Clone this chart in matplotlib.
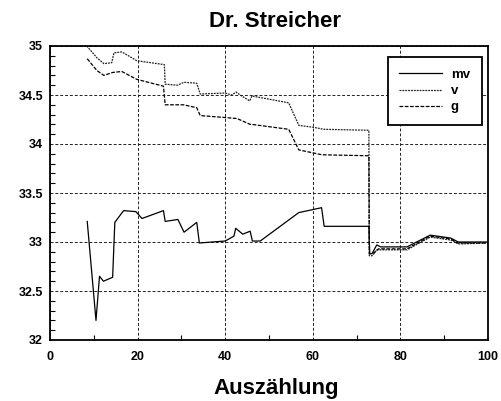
import matplotlib
matplotlib.use("Agg")
import matplotlib.pyplot as plt
from matplotlib.ticker import MultipleLocator

plt.rcParams['font.family'] = ['Liberation Sans', 'DejaVu Sans']

mv_x = [8.5, 10.5, 11.3, 12.2, 14.3, 14.8, 16.8, 19.6, 21.0, 25.9, 26.3, 29.2, 30.6, 33.5, 34.1,
        40.0, 42.0, 42.4, 44.0, 45.7, 46.2, 48.0, 56.8, 62.0, 62.6, 72.8, 73.0, 73.5, 74.6, 75.5,
        81.5, 86.8, 91.5, 93.2, 100.0]
mv_y = [33.21, 32.2, 32.65, 32.6, 32.64, 33.2, 33.32, 33.31, 33.24, 33.32, 33.21, 33.23, 33.1, 33.2, 32.99,
        33.01, 33.06, 33.14, 33.08, 33.11, 33.01, 33.01, 33.3, 33.35, 33.16, 33.16, 32.88, 32.88, 32.97, 32.95,
        32.95, 33.07, 33.04, 33.0, 33.0]

v_x = [8.4, 10.7, 12.3, 14.1, 14.6, 16.4, 19.8, 26.1, 26.3, 29.1, 30.6, 33.5, 34.3, 40.0, 41.5,
       42.5, 43.4, 45.6, 46.1, 54.5, 56.8, 60.2, 62.5, 72.8, 72.9, 73.6, 74.6, 81.5, 86.8, 91.5,
       93.2, 100.0]
v_y = [35.0, 34.88, 34.82, 34.83, 34.93, 34.94, 34.85, 34.81, 34.61, 34.6, 34.63, 34.62, 34.51, 34.52, 34.5,
       34.53, 34.5, 34.44, 34.49, 34.42, 34.19, 34.17, 34.15, 34.14, 32.86, 32.86, 32.92, 32.92, 33.05, 33.02,
       32.98, 32.99]

g_x = [8.5, 10.7, 12.3, 14.3, 16.4, 19.8, 25.9, 26.3, 30.5, 33.5, 34.3, 40.0, 42.7, 45.7, 46.1,
       54.5, 56.8, 62.1, 72.8, 72.9, 74.0, 75.0, 81.5, 86.8, 91.5, 93.2, 100.0]
g_y = [34.87, 34.75, 34.7, 34.73, 34.74, 34.66, 34.59, 34.4, 34.4, 34.37, 34.29, 34.27, 34.26, 34.2, 34.2,
       34.15, 33.94, 33.89, 33.88, 32.88, 32.89, 32.93, 32.93, 33.06, 33.03, 32.99, 32.99]

x_ticks = [0, 20, 40, 60, 80, 100]
y_ticks = [32, 32.5, 33, 33.5, 34, 34.5, 35]
y_labels = ['32', '32.5', '33', '33.5', '34', '34.5', '35']

fig = plt.figure(figsize=(5.01, 4.01), dpi=100)
ax = fig.add_axes([50/501, 1-340/401, 438/501, 294/401])

ax.plot(mv_x, mv_y, color='black', lw=0.9, label='mv')
ax.plot(v_x, v_y, color='#222222', lw=0.9, linestyle=(0, (1.5, 0.8)), label='v')
ax.plot(g_x, g_y, color='black', lw=0.9, linestyle=(0, (3, 1.2)), label='g')

ax.set_xlim(0, 100)
ax.set_ylim(32, 35)
ax.set_xticks(x_ticks)
ax.set_xticklabels([str(t) for t in x_ticks])
ax.set_yticks(y_ticks)
ax.set_yticklabels(y_labels)
ax.xaxis.set_minor_locator(MultipleLocator(10))
ax.yaxis.set_minor_locator(MultipleLocator(0.1))
ax.tick_params(which='both', direction='in', top=False, right=False, labelsize=9)
ax.tick_params(axis='x', which='major', length=0, pad=8)
ax.tick_params(axis='y', which='major', length=0, pad=5)
ax.tick_params(which='minor', length=3.5, width=0.8)
for lbl in ax.get_xticklabels() + ax.get_yticklabels():
    lbl.set_fontweight('bold')

ax.grid(True, which='major', color='#222222', linestyle=(0, (3, 2)), lw=0.7)
for s in ax.spines.values():
    s.set_linewidth(1.3)

ax.set_title('Dr. Streicher', fontsize=16, fontweight='bold', pad=0,
             x=(275-50)/438, y=(340-27)/294, va='baseline')
ax.set_xlabel('Auszählung', fontsize=16, fontweight='bold', va='baseline')
ax.xaxis.set_label_coords((276-50)/438, (340-394)/294)

leg = ax.legend(loc='upper right', bbox_to_anchor=(0.986, 0.963), fancybox=False,
                edgecolor='black', framealpha=1, handlelength=3.2, labelspacing=0.3,
                borderpad=0.9, handletextpad=0.7, borderaxespad=0,
                prop={'weight': 'bold', 'size': 9.5})
leg.get_frame().set_linewidth(1.3)

fig.savefig('out.png', dpi=100)
